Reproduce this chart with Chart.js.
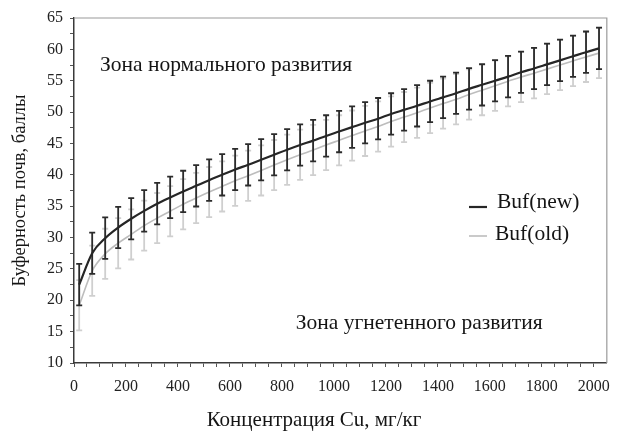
<!DOCTYPE html>
<html><head><meta charset="utf-8">
<script src="https://cdn.jsdelivr.net/npm/chart.js@4/dist/chart.umd.min.js"></script>
<style>html,body{margin:0;padding:0;background:#fff}canvas{display:block}</style>
</head><body>
<canvas id="c" width="620" height="432"></canvas>
<script>
// ---- data ----
const concentration = [20,70,120,170,220,270,320,370,420,470,520,570,620,670,720,770,820,870,920,970,1020,1070,1120,1170,1220,1270,1320,1370,1420,1470,1520,1570,1620,1670,1720,1770,1820,1870,1920,1970,2020];
const bufNew = [22.5,27.5,29.9,31.6,33.0,34.25,35.4,36.4,37.35,38.25,39.15,40.0,40.85,41.6,42.4,43.2,44.0,44.75,45.45,46.2,46.9,47.6,48.3,48.95,49.7,50.35,51.0,51.7,52.35,53.0,53.7,54.35,55.0,55.65,56.35,56.95,57.6,58.25,58.9,59.55,60.15];
const bufNewErr = [3.3,3.3,3.3,3.3,3.3,3.3,3.3,3.3,3.3,3.3,3.3,3.3,3.3,3.3,3.3,3.3,3.3,3.3,3.3,3.3,3.3,3.3,3.3,3.3,3.3,3.3,3.3,3.3,3.3,3.3,3.3,3.3,3.3,3.3,3.3,3.3,3.3,3.3,3.3,3.3,3.3];
const bufOld = [19.2,24.7,27.4,29.1,30.5,31.9,33.1,34.2,35.3,36.3,37.25,38.15,39.05,39.85,40.7,41.55,42.4,43.2,43.95,44.75,45.5,46.25,47.0,47.7,48.5,49.2,49.9,50.65,51.35,52.05,52.8,53.5,54.2,54.9,55.6,56.2,56.85,57.5,58.15,58.8,59.4];
const bufOldErr = [4.0,4.0,4.0,4.0,4.0,4.0,4.0,4.0,4.0,4.0,4.0,4.0,4.0,4.0,4.0,4.0,4.0,4.0,4.0,4.0,4.0,4.0,4.0,4.0,4.0,4.0,4.0,4.0,4.0,4.0,4.0,4.0,4.0,4.0,4.0,4.0,4.0,4.0,4.0,4.0,4.0];
const seriesLabels = ['Buf(new)', 'Buf(old)'];
const xTickLabels = [0,200,400,600,800,1000,1200,1400,1600,1800,2000];
const yTickLabels = [10,15,20,25,30,35,40,45,50,55,60,65];
const xMinorStep = 50;
const yMinorStep = 2.5;
const xTitle = 'Концентрация Cu, мг/кг';
const yTitle = 'Буферность почв, баллы';
const zoneTexts = ['Зона нормального развития', 'Зона угнетенного развития'];
const zoneAnchors = [[100, 57.5], [853, 16.3]];

// ---- chart ----
const SERIF = "'Liberation Serif', 'Times New Roman', serif";
const toPoints = (xs, ys) => xs.map((x, i) => ({x, y: ys[i]}));
function minorTicks(min, max, step) {
  const out = [];
  for (let v = min; v <= max + 1e-9; v += step) out.push({value: Math.round(v * 1000) / 1000});
  return out;
}

const errorBars = {
  id: 'errorBars',
  beforeDatasetDraw(chart, args) {
    const ds = chart.data.datasets[args.index];
    if (!ds.errors) return;
    const xs = chart.scales.x, ys = chart.scales.y, ctx = chart.ctx;
    const cap = 3;
    ctx.save();
    ctx.strokeStyle = ds.errorColor;
    ctx.lineWidth = ds.errorWidth;
    ds.data.forEach((p, i) => {
      const px = xs.getPixelForValue(p.x);
      const top = ys.getPixelForValue(p.y + ds.errors[i]);
      const bot = ys.getPixelForValue(p.y - ds.errors[i]);
      ctx.beginPath();
      ctx.moveTo(px, top); ctx.lineTo(px, bot);
      ctx.moveTo(px - cap, top); ctx.lineTo(px + cap, top);
      ctx.moveTo(px - cap, bot); ctx.lineTo(px + cap, bot);
      ctx.stroke();
    });
    ctx.restore();
  }
};

const frameAndText = {
  id: 'frameAndText',
  afterDraw(chart) {
    const {ctx, chartArea: a} = chart;
    const xs = chart.scales.x, ys = chart.scales.y;
    ctx.save();
    // top and right frame
    ctx.strokeStyle = '#9a9a9a';
    ctx.lineWidth = 1.2;
    ctx.beginPath();
    ctx.moveTo(a.left, a.top); ctx.lineTo(a.right, a.top); ctx.lineTo(a.right, a.bottom);
    ctx.stroke();
    // zone labels
    ctx.fillStyle = '#151515';
    ctx.font = '21.5px ' + SERIF;
    ctx.textAlign = 'left';
    ctx.textBaseline = 'middle';
    zoneTexts.forEach((t, i) => {
      ctx.fillText(t, xs.getPixelForValue(zoneAnchors[i][0]), ys.getPixelForValue(zoneAnchors[i][1]));
    });
    // legend
    const lx = 469, ly = [204, 236];
    chart.data.datasets.forEach((ds, i) => {
      ctx.strokeStyle = ds.borderColor;
      ctx.lineWidth = ds.borderWidth;
      ctx.beginPath();
      ctx.moveTo(lx, ly[i] + (i === 0 ? 3 : 0)); ctx.lineTo(lx + 18, ly[i] + (i === 0 ? 3 : 0));
      ctx.stroke();
      ctx.fillStyle = '#151515';
      ctx.fillText(ds.label, lx + 28 - (i === 1 ? 2 : 0), ly[i] - 2);
    });
    // x axis title (sits left of the plot centre in the reference)
    ctx.font = '21px ' + SERIF;
    ctx.textAlign = 'center';
    ctx.fillText(xTitle, 314, 420);
    ctx.restore();
  }
};

new Chart(document.getElementById('c'), {
  type: 'line',
  data: {
    datasets: [
      {
        label: seriesLabels[0],
        data: toPoints(concentration, bufNew),
        errors: bufNewErr,
        errorColor: '#2b2b2b',
        errorWidth: 1.8,
        borderColor: '#262626',
        borderWidth: 2.2,
        pointRadius: 0,
        cubicInterpolationMode: 'monotone',
        fill: false
      },
      {
        label: seriesLabels[1],
        data: toPoints(concentration, bufOld),
        errors: bufOldErr,
        errorColor: '#cfcfcf',
        errorWidth: 1.8,
        borderColor: '#bdbdbd',
        borderWidth: 1.6,
        pointRadius: 0,
        cubicInterpolationMode: 'monotone',
        fill: false
      }
    ]
  },
  options: {
    responsive: false,
    animation: false,
    devicePixelRatio: 1,
    layout: {padding: {left: 0, right: 7, top: 18, bottom: 0}},
    plugins: {legend: {display: false}, tooltip: {enabled: false}},
    scales: {
      x: {
        type: 'linear',
        min: 0,
        max: 2050,
        afterBuildTicks: s => { s.ticks = minorTicks(0, 2000, xMinorStep); },
        afterFit: s => { s.height = 69; },
        border: {color: '#3a3a3a', width: 1.5},
        grid: {drawOnChartArea: false, drawTicks: true, tickLength: 4, color: '#555', lineWidth: 1},
        ticks: {
          autoSkip: false, maxRotation: 0, padding: 10,
          color: '#222', font: {family: SERIF, size: 16},
          callback: v => xTickLabels.includes(v) ? String(v) : ''
        },
        title: {display: false}
      },
      y: {
        type: 'linear',
        min: 10,
        max: 65,
        afterBuildTicks: s => { s.ticks = minorTicks(10, 65, yMinorStep); },
        afterFit: s => { s.width = 74; },
        border: {color: '#3a3a3a', width: 1.5},
        grid: {drawOnChartArea: false, drawTicks: true, tickLength: 4, color: '#555', lineWidth: 1},
        ticks: {
          autoSkip: false, padding: 7,
          color: '#222', font: {family: SERIF, size: 16},
          callback: v => yTickLabels.includes(v) ? String(v) : ''
        },
        title: {display: true, text: yTitle, color: '#151515', font: {family: SERIF, size: 18.5}, padding: {top: 9, bottom: 0}}
      }
    }
  },
  plugins: [errorBars, frameAndText]
});
</script>
</body></html>
